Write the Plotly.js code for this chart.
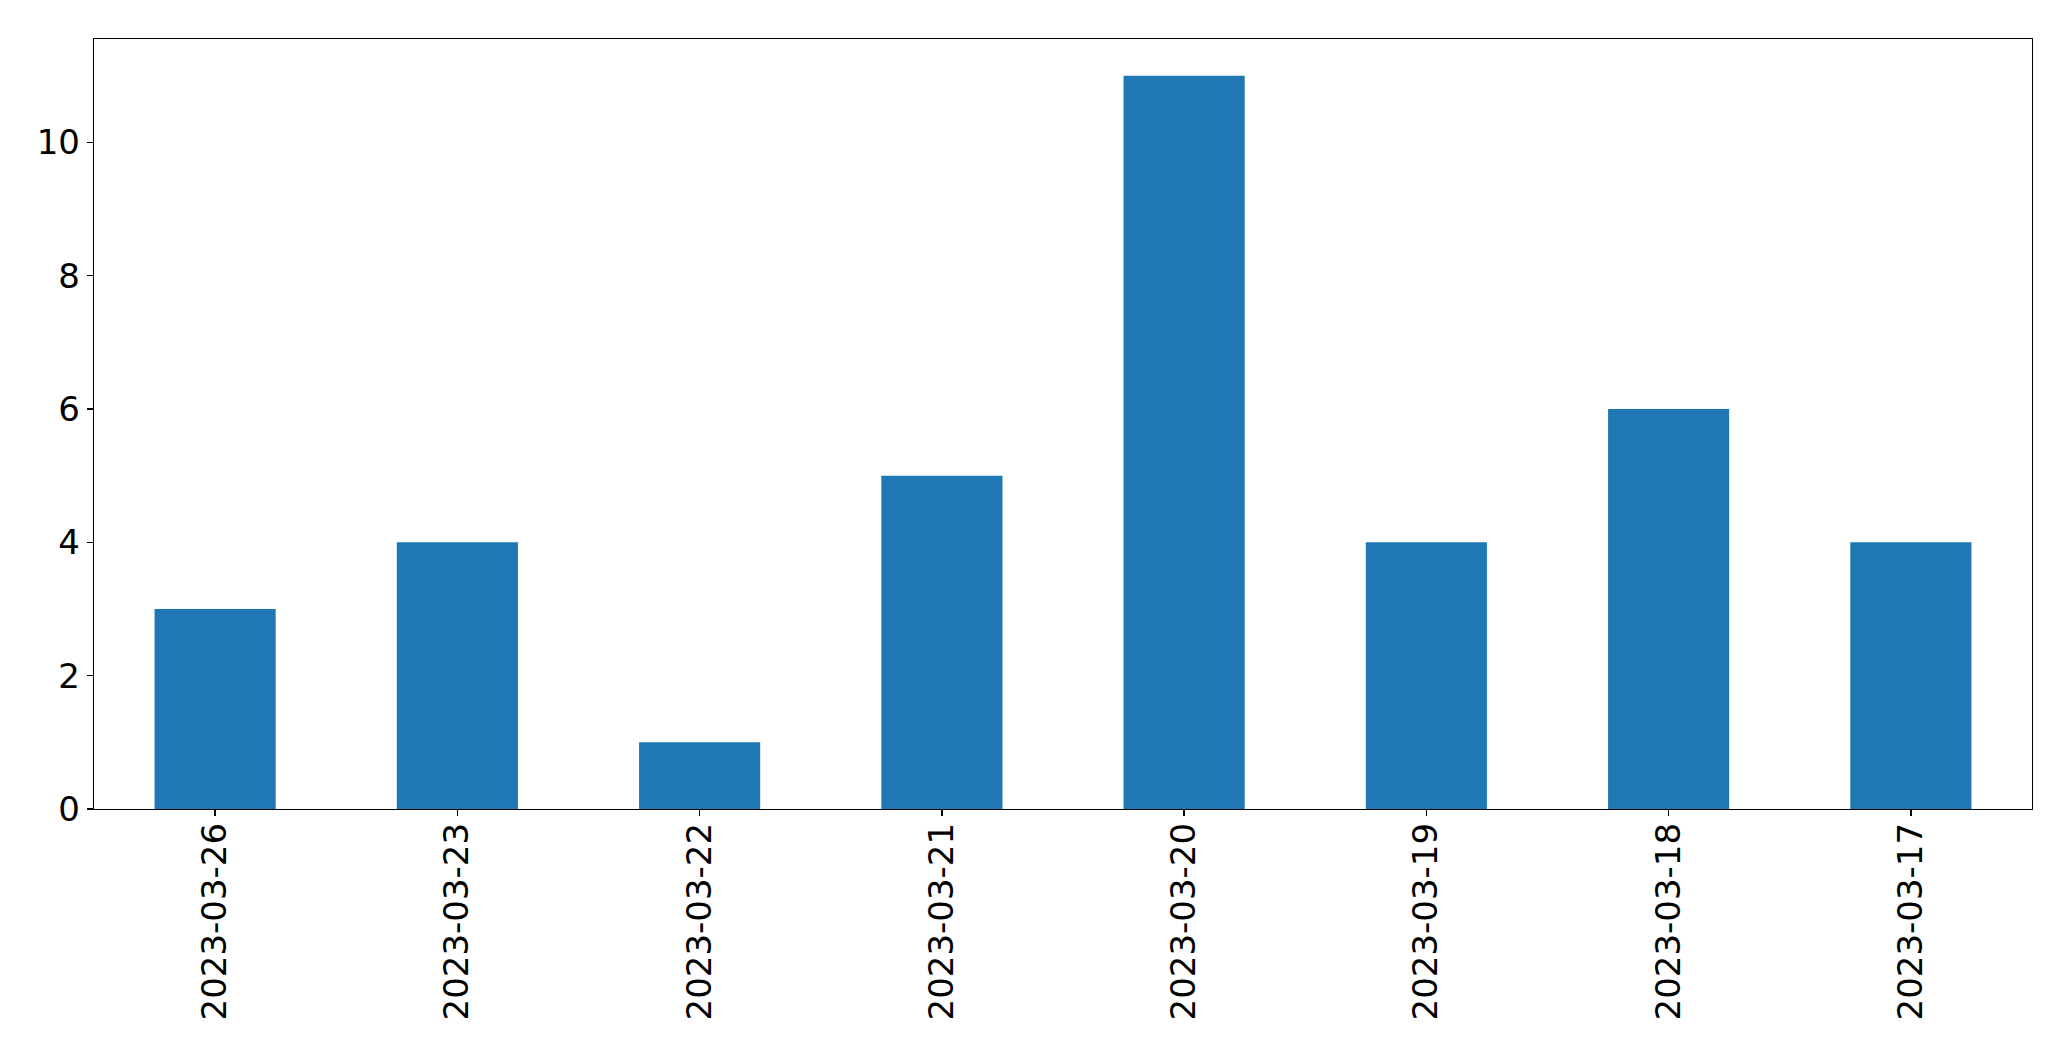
<!DOCTYPE html>
<html>
<head>
<meta charset="utf-8">
<script src="https://cdn.plot.ly/plotly-3.0.1.min.js"></script>
<style>html,body{margin:0;padding:0;background:#fff;}#chart{width:2071px;height:1061px;}</style>
</head>
<body>
<div id="chart"></div>
<script>
const dates = ["2023-03-26","2023-03-23","2023-03-22","2023-03-21","2023-03-20","2023-03-19","2023-03-18","2023-03-17"];
const counts = [3, 4, 1, 5, 11, 4, 6, 4];
const yTicks = [0, 2, 4, 6, 8, 10];

const trace = {
  type: 'bar',
  x: dates,
  y: counts,
  width: 0.5,
  marker: {color: '#1f77b4', line: {width: 0}},
  hoverinfo: 'x+y'
};

const font = {family: 'DejaVu Sans, sans-serif', size: 34, color: '#000'};

const layout = {
  width: 2071,
  height: 1061,
  margin: {l: 94, r: 39, t: 39, b: 252, pad: 0},
  paper_bgcolor: '#fff',
  plot_bgcolor: '#fff',
  showlegend: false,
  font: font,
  bargap: 0.5,
  xaxis: {
    type: 'category',
    range: [-0.5, dates.length - 0.5],
    tickangle: -90,
    ticks: 'outside',
    ticklen: 6,
    tickwidth: 1.3,
    tickcolor: '#000',
    ticklabelstandoff: -7,
    showline: true,
    linecolor: '#000',
    linewidth: 1.3,
    mirror: true,
    showgrid: false,
    zeroline: false,
    tickfont: font
  },
  yaxis: {
    range: [0, 11.55],
    tickvals: yTicks,
    ticktext: yTicks.map(String),
    ticks: 'outside',
    ticklen: 6,
    tickwidth: 1.3,
    tickcolor: '#000',
    showline: true,
    linecolor: '#000',
    linewidth: 1.3,
    mirror: true,
    showgrid: false,
    zeroline: false,
    tickfont: font
  }
};

Plotly.newPlot('chart', [trace], layout, {displayModeBar: false, staticPlot: true});
</script>
</body>
</html>
